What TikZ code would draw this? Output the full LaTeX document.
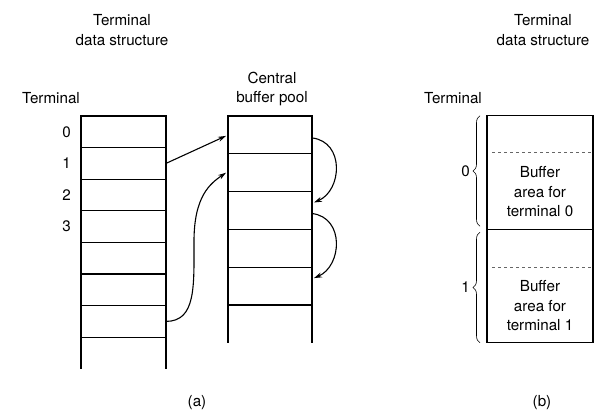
\documentclass[tikz,border=0pt]{standalone}
\usepackage{fontspec}
\setmainfont{TeX Gyre Heros}
\usetikzlibrary{arrows.meta,decorations.pathreplacing}

\tikzset{
  cellL/.style={draw,line width=1.2pt,minimum width=85pt,minimum height=31.6pt,inner sep=0pt,outer sep=0pt},
  cellP/.style={draw,line width=1.2pt,minimum width=84pt,minimum height=37.8pt,inner sep=0pt,outer sep=0pt},
  areabox/.style={draw,line width=1.2pt,minimum width=106pt,minimum height=113.5pt,inner sep=0pt,outer sep=0pt},
  lbl/.style={align=center,inner sep=0pt,font=\fontsize{15.2}{19.5}\selectfont},
  arr/.style={line width=1.1pt,-{Stealth[length=8pt,width=5pt]}},
  brc/.style={decorate,decoration={brace,amplitude=7pt},line width=0.6pt}
}

\begin{document}
\begin{tikzpicture}[x=1pt,y=-1pt]
			\useasboundingbox (0,0) rectangle (598,412);
			% (a) terminal table and buffer pool
			\foreach \i in {0,...,6} \node[cellL] (t\i) at (123.5,131.8+31.6*\i) {};
			\draw[line width=1.2pt] (t6.south west) -- +(0,32);
			\draw[line width=1.2pt] (t6.south east) -- +(0,32);
			\foreach \i in {0,...,4} \node[cellP] (p\i) at (270,134.9+37.8*\i) {};
			\draw[line width=1.2pt] (p4.south west) -- +(0,38);
			\draw[line width=1.2pt] (p4.south east) -- +(0,38);
			\foreach \i in {0,...,3} \node[lbl,anchor=east] (n\i) at ([xshift=-10pt]t\i.west) {\i};
			\node[lbl] (tds1) at (122,30) {Terminal\\data structure};
			\node[lbl] (term1) at (51,98) {Terminal};
			\node[lbl] (pool) at (272,89) {Central\\buffer pool};
			\node[lbl] (capa) at (197,403) {(a)};
			\draw[arr] (t1.east) -- ([xshift=-2pt,yshift=-1pt]p0.west);
			\draw[arr] (t6.east) .. controls +(30,0) and +(0,45) .. +(28,-80) .. controls +(0,-45) and +(-16,11) .. ([xshift=-2pt]p1.west);
			\draw[arr] ([yshift=-3pt]p0.east) .. controls +(33,4) and +(28,-12) .. ([xshift=2pt,yshift=8pt]p2.east);
			\draw[arr] ([yshift=-3pt]p2.east) .. controls +(33,4) and +(28,-12) .. ([xshift=2pt,yshift=8pt]p4.east);
			% (b) one buffer area per terminal
			\node[areabox] (b0) at (540,172.5) {};
			\node[areabox] (b1) at (540,286) {};
			\draw[dashed,gray!80!black,line width=0.7pt] ([xshift=5pt,yshift=-37pt]b0.north west) -- ([yshift=-37pt]b0.north east);
			\draw[dashed,gray!80!black,line width=0.7pt] ([xshift=5pt,yshift=-38pt]b1.north west) -- ([yshift=-38pt]b1.north east);
			\node[lbl] (buf0) at (540,192) {Buffer\\area for\\terminal 0};
			\node[lbl] (buf1) at (540,306) {Buffer\\area for\\terminal 1};
			\draw[brc] ([xshift=-7pt,yshift=3pt]b0.south west) -- ([xshift=-7pt]b0.north west) node[midway,left=10pt,lbl] (m0) {0};
			\draw[brc] ([xshift=-7pt]b1.south west) -- ([xshift=-7pt,yshift=-3pt]b1.north west) node[midway,left=10pt,lbl] (m1) {1};
			\node[lbl] (tds2) at (543,30) {Terminal\\data structure};
			\node[lbl] (term2) at (453,98) {Terminal};
			\node[lbl] (capb) at (542,403) {(b)};
		\end{tikzpicture}
\end{document}
